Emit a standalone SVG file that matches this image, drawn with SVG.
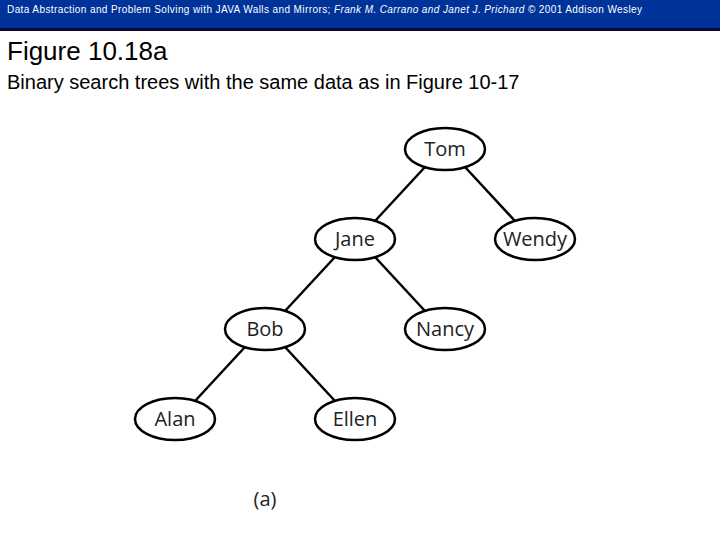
<svg xmlns="http://www.w3.org/2000/svg" width="720" height="540" viewBox="0 0 720 540">
<style>
.n ellipse{fill:#fff;stroke:#000;stroke-width:2.5}
.n text{font-family:"Open Sans","DejaVu Sans",sans-serif;font-size:20px;text-anchor:middle;fill:#222}
#edges line{stroke:#000;stroke-width:2.5}
.h{font-family:"Liberation Sans",Arial,sans-serif}
</style>
<rect width="720" height="540" fill="#fff"/>
<rect width="720" height="28" fill="#003399"/>
<rect y="28" width="720" height="3" fill="#0a0a33"/>
<text class="h" x="7" y="13" font-size="10" fill="#fff" textLength="635" lengthAdjust="spacing">Data Abstraction and Problem Solving with JAVA  Walls and Mirrors; <tspan font-style="italic">Frank M. Carrano and Janet J. Prichard</tspan>  © 2001 Addison Wesley</text>
<text class="h" x="7" y="60" font-size="26">Figure 10.18a</text>
<text class="h" x="7" y="89" font-size="20">Binary search trees with the same data as in Figure 10-17</text>
<g id="edges">
<line x1="425" y1="167" x2="375" y2="221"/>
<line x1="465" y1="167" x2="515" y2="221"/>
<line x1="335" y1="257" x2="285" y2="311"/>
<line x1="375" y1="257" x2="425" y2="311"/>
<line x1="245" y1="347" x2="195" y2="401"/>
<line x1="285" y1="347" x2="335" y2="401"/>
</g>
<g id="tom" class="n"><ellipse cx="445" cy="149" rx="40" ry="21"/><text x="445" y="156">Tom</text></g>
<g id="jane" class="n"><ellipse cx="355" cy="239" rx="40" ry="21"/><text x="355" y="246">Jane</text></g>
<g id="wendy" class="n"><ellipse cx="535" cy="239" rx="40" ry="21"/><text x="535" y="246">Wendy</text></g>
<g id="bob" class="n"><ellipse cx="265" cy="329" rx="40" ry="21"/><text x="265" y="336">Bob</text></g>
<g id="nancy" class="n"><ellipse cx="445" cy="329" rx="40" ry="21"/><text x="445" y="336">Nancy</text></g>
<g id="alan" class="n"><ellipse cx="175" cy="419" rx="40" ry="21"/><text x="175" y="426">Alan</text></g>
<g id="ellen" class="n"><ellipse cx="355" cy="419" rx="40" ry="21"/><text x="355" y="426">Ellen</text></g>
<text x="265" y="506" font-family="'Open Sans','DejaVu Sans',sans-serif" font-size="20" text-anchor="middle" fill="#222">(a)</text>
</svg>
